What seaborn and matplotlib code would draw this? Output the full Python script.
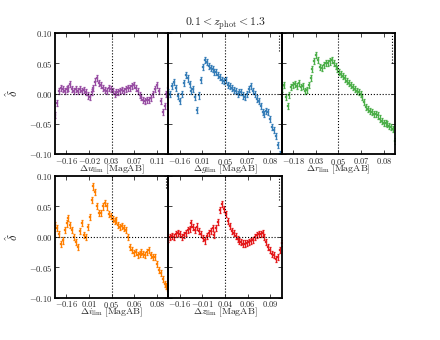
import numpy as np
import matplotlib
matplotlib.use("Agg")
import matplotlib.pyplot as plt
import seaborn as sns

# bands and their colours (Set1 order used in the figure)
bands = ["u", "g", "r", "i", "z"]
colors = ["#984ea3", "#377eb8", "#4daf4a", "#ff7f00", "#e41a1c"]

# x tick labels (quantiles of Delta m_lim) for each band
xtick_labels = {
    "u": ["-0.16", "-0.02", "0.03", "0.07", "0.11"],
    "g": ["-0.16", "0.01", "0.05", "0.07", "0.08"],
    "r": ["-0.18", "0.03", "0.05", "0.07", "0.08"],
    "i": ["-0.16", "0.01", "0.05", "0.06", "0.08"],
    "z": ["-0.16", "-0.01", "0.04", "0.06", "0.09"],
}

# delta-hat values (evenly spaced along the ranked x axis)
delta_u = [-0.035, -0.015, 0.004, 0.01, 0.008, 0.004, 0.007, 0.01, 0.016, 0.008,
           0.004, 0.007, 0.005, 0.008, 0.004, 0.006, 0.002, -0.003, -0.006, 0.002,
           0.01, 0.02, 0.026, 0.018, 0.014, 0.01, 0.006, 0.004, 0.01, 0.008,
           0.004, 0.0, 0.003, 0.002, 0.005, 0.006, 0.004, 0.008, 0.01, 0.01,
           0.012, 0.015, 0.01, 0.004, -0.002, -0.006, -0.01, -0.012, -0.01, -0.011,
           -0.007, 0.0, 0.008, 0.014, 0.005, -0.012, -0.03, -0.02, 0.0, 0.01]
delta_g = [0.003, 0.0, 0.012, 0.019, 0.01, -0.004, -0.012, 0.0, 0.018, 0.03,
           0.025, 0.016, 0.005, 0.008, -0.005, -0.027, -0.003, 0.022, 0.044, 0.055,
           0.052, 0.045, 0.042, 0.041, 0.036, 0.035, 0.03, 0.027, 0.022, 0.021,
           0.022, 0.014, 0.012, 0.01, 0.006, 0.005, 0.0, 0.002, 0.003, -0.003,
           -0.005, 0.0, 0.008, 0.012, 0.005, 0.0, -0.008, -0.012, -0.02, -0.03,
           -0.033, -0.028, -0.03, -0.042, -0.055, -0.06, -0.07, -0.085, -0.1, -0.115]
delta_r = [0.008, 0.015, -0.006, -0.02, -0.002, 0.011, 0.014, 0.016, 0.013, 0.018,
           0.011, 0.012, 0.004, 0.006, 0.014, 0.026, 0.04, 0.054, 0.064, 0.056,
           0.044, 0.043, 0.047, 0.05, 0.05, 0.053, 0.055, 0.051, 0.045, 0.04,
           0.036, 0.033, 0.029, 0.025, 0.021, 0.017, 0.014, 0.011, 0.008, 0.005,
           0.002, -0.001, -0.006, -0.014, -0.022, -0.025, -0.028, -0.031, -0.034, -0.034,
           -0.036, -0.041, -0.045, -0.048, -0.049, -0.05, -0.053, -0.055, -0.059, -0.078]
delta_i = [0.02, 0.014, 0.004, -0.012, -0.006, 0.012, 0.022, 0.031, 0.02, 0.011,
           0.0, -0.009, -0.017, 0.01, 0.023, 0.003, 0.0, 0.016, 0.033, 0.06,
           0.083, 0.074, 0.051, 0.04, 0.039, 0.05, 0.056, 0.05, 0.038, 0.034,
           0.029, 0.026, 0.028, 0.02, 0.016, 0.018, 0.015, 0.012, 0.0, -0.016,
           -0.022, -0.027, -0.025, -0.03, -0.028, -0.025, -0.028, -0.03, -0.025, -0.022,
           -0.03, -0.033, -0.033, -0.045, -0.054, -0.06, -0.07, -0.078, -0.081, -0.09]
delta_z = [-0.003, 0.0, 0.002, 0.0, 0.004, 0.006, 0.005, 0.0, 0.003, 0.006,
           0.011, 0.013, 0.022, 0.016, 0.011, 0.017, 0.009, 0.004, -0.002, -0.006,
           0.002, 0.006, 0.01, 0.015, 0.003, 0.014, 0.025, 0.044, 0.054, 0.046,
           0.037, 0.026, 0.018, 0.01, 0.006, 0.002, -0.003, -0.007, -0.009, -0.011,
           -0.011, -0.01, -0.009, -0.007, -0.005, 0.0, 0.003, 0.005, 0.004, 0.006,
           0.0, -0.008, -0.016, -0.022, -0.028, -0.03, -0.037, -0.033, -0.022, -0.01]
deltas = {"u": delta_u, "g": delta_g, "r": delta_r, "i": delta_i, "z": delta_z}
delta_err = 0.005

# lower end of the short dotted line at the right edge (None = not drawn)
edge_line_low = {"u": None, "g": 0.07, "r": 0.05, "i": 0.08, "z": 0.06}

sns.set_theme(style="ticks", rc={
    "xtick.direction": "in", "ytick.direction": "in",
    "xtick.major.size": 3, "ytick.major.size": 3,
    "axes.linewidth": 1.3, "axes.edgecolor": "black",
})
plt.rcParams["font.family"] = ["DejaVu Serif"]
plt.rcParams["mathtext.fontset"] = "cm"

fig, axes = plt.subplots(2, 3, figsize=(4.4, 3.4), dpi=100,
                         gridspec_kw={"wspace": 0, "hspace": 0.18})
fig.subplots_adjust(left=0.125, right=0.898, top=0.903, bottom=0.125)
axes[1, 2].remove()

xticks = [0.1, 0.3, 0.5, 0.7, 0.9]
yticks = [-0.10, -0.05, 0.0, 0.05, 0.10]

for k, band in enumerate(bands):
    ax = axes.flat[k]
    ax.patch.set_visible(False)
    y = np.array(deltas[band])
    x = np.linspace(0, 1, len(y))

    ax.errorbar(x, y, yerr=delta_err, fmt="none", ecolor=colors[k],
                elinewidth=0.9, capsize=1.0, capthick=0.9)
    sns.scatterplot(x=x, y=y, ax=ax, color=colors[k], marker="s", s=4,
                    edgecolor=colors[k], linewidth=0.2)

    ax.axhline(0, color="black", ls=":", lw=0.8)
    ax.axvline(0.5, color="black", ls=":", lw=0.8)
    if edge_line_low[band] is not None:
        ax.vlines(0.975, edge_line_low[band], 0.1, color="black",
                  linestyles=":", lw=0.8)

    ax.set_xlim(0, 1)
    ax.set_ylim(-0.10, 0.10)
    ax.set_xticks(xticks)
    ax.set_xticklabels(["$%s$" % t for t in xtick_labels[band]], fontsize=6)
    ax.set_yticks(yticks)
    ax.tick_params(top=True, right=True, width=0.6)
    ax.tick_params(axis="x", pad=1)
    ax.tick_params(axis="y", pad=1.5)
    if k in (0, 3):
        ax.set_yticklabels(["$%.2f$" % v for v in yticks], fontsize=6.2)
        ax.set_ylabel(r"$\hat{\delta}$", fontsize=9)
        ax.yaxis.set_label_coords(-0.3, 0.5)
    else:
        ax.set_yticklabels([])
    ax.set_xlabel(r"$\Delta %s_{\rm lim}\ [{\rm MagAB}]$" % band, fontsize=7)
    ax.xaxis.label.set_va("center")
    ax.xaxis.set_label_coords(0.5, -0.12)

axes[0, 1].set_title(r"$0.1 < z_{\rm phot} < 1.3$", fontsize=8.5, pad=5)

plt.savefig("out.png", dpi=100)
